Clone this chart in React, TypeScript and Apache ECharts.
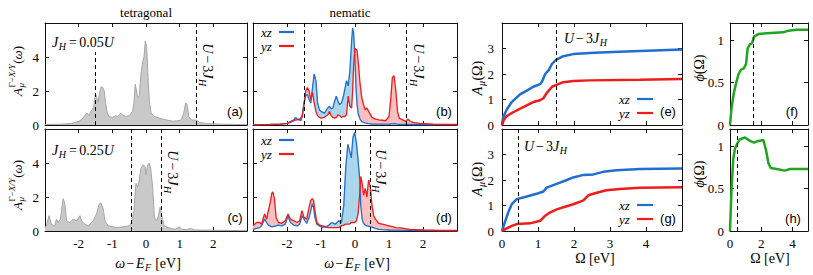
import React, { useEffect, useRef } from 'react';
import * as echarts from 'echarts';

// ---------------- data ----------------
// (a) tetragonal, J_H = 0.05U
const omegaTetA = [-3.0,-2.5,-2.2,-2.0,-1.9,-1.8,-1.75,-1.7,-1.65,-1.6,-1.55,-1.5,-1.46,-1.42,-1.38,-1.33,-1.28,-1.24,-1.2,-1.15,-1.1,-1.0,-0.9,-0.85,-0.75,-0.7,-0.6,-0.5,-0.4,-0.36,-0.32,-0.28,-0.24,-0.2,-0.15,-0.1,-0.06,-0.02,0.02,0.06,0.1,0.15,0.25,0.4,0.6,0.8,0.95,1.05,1.12,1.18,1.22,1.27,1.35,1.5,1.6,1.8,2.2,3.0];
const specTetA = [0.03,0.05,0.1,0.2,0.35,0.6,0.7,0.55,0.75,0.9,1.1,1.85,1.6,1.35,1.9,2.25,2.2,2.0,1.3,0.7,0.5,0.45,0.55,0.5,0.7,0.6,0.5,0.55,0.8,1.3,2.4,2.0,1.6,1.7,3.0,3.7,4.0,4.95,4.6,2.8,1.4,0.7,0.5,0.4,0.3,0.22,0.25,0.3,0.7,1.3,1.2,0.5,0.3,0.28,0.15,0.08,0.05,0.02];

// (b) nematic, J_H = 0.05U
const omegaNemB = [-3,-2.5,-2.2,-2.0,-1.9,-1.8,-1.75,-1.7,-1.65,-1.6,-1.55,-1.5,-1.45,-1.4,-1.35,-1.3,-1.25,-1.2,-1.15,-1.1,-1.05,-1.0,-0.9,-0.8,-0.75,-0.7,-0.65,-0.6,-0.55,-0.5,-0.45,-0.4,-0.35,-0.3,-0.25,-0.2,-0.15,-0.1,-0.07,-0.04,0.0,0.03,0.06,0.1,0.15,0.2,0.25,0.3,0.35,0.4,0.5,0.6,0.7,0.8,0.9,1.0,1.05,1.1,1.15,1.2,1.25,1.3,1.4,1.5,1.55,1.6,1.7,1.9,2.3,3.0];
const xzNemB = [0.02,0.03,0.05,0.1,0.2,0.3,0.45,0.35,0.3,0.4,0.6,1.3,1.7,1.8,1.5,1.3,2.2,3.0,2.6,1.3,0.9,0.8,0.7,1.0,1.1,0.95,1.0,1.4,1.7,1.4,1.2,1.3,1.6,2.1,2.6,2.3,3.2,4.9,5.7,5.4,3.8,2.2,1.2,0.6,0.35,0.2,0.15,0.12,0.1,0.08,0.06,0.05,0.05,0.05,0.05,0.05,0.06,0.07,0.08,0.07,0.05,0.04,0.04,0.04,0.04,0.03,0.03,0.03,0.02,0.02];
const yzNemB = [0.02,0.03,0.05,0.08,0.15,0.25,0.3,0.3,0.35,0.25,0.5,1.2,2.0,2.2,2.0,1.5,1.9,1.3,0.8,0.55,0.45,0.4,0.45,0.6,0.8,0.55,0.45,0.4,0.45,0.6,0.55,0.45,0.5,0.5,0.6,1.7,1.1,1.0,2.0,3.5,4.5,4.45,4.4,3.6,2.4,1.6,1.2,0.9,1.0,0.8,0.45,0.35,0.3,0.28,0.25,0.5,1.5,2.8,2.9,2.0,0.8,0.4,0.3,0.2,0.35,0.25,0.15,0.1,0.05,0.03];

// (c) tetragonal, J_H = 0.25U
const omegaTetC = [-3.0,-2.96,-2.88,-2.81,-2.71,-2.66,-2.61,-2.54,-2.49,-2.46,-2.41,-2.36,-2.26,-2.16,-2.06,-1.96,-1.91,-1.82,-1.72,-1.57,-1.47,-1.39,-1.34,-1.27,-1.22,-1.12,-0.87,-0.67,-0.5,-0.43,-0.36,-0.3,-0.25,-0.2,-0.15,-0.08,-0.03,0.0,0.04,0.09,0.14,0.2,0.25,0.32,0.37,0.42,0.47,0.54,0.66,0.86,0.99,1.06,1.2,1.32,1.45,1.9,2.5,3.0];
const specTetC = [0.2,0.3,0.9,0.4,0.3,0.7,0.5,0.7,1.5,1.9,1.6,0.6,0.5,0.7,0.6,0.9,0.6,0.4,0.3,0.6,1.0,1.6,1.65,1.3,0.6,0.3,0.2,0.25,0.3,0.5,1.2,2.8,2.6,3.0,3.7,3.9,3.8,3.3,3.8,4.0,3.7,2.5,0.8,0.6,0.9,1.4,0.9,0.3,0.2,0.1,0.25,0.1,0.08,0.15,0.06,0.05,0.03,0.02];

// (d) nematic, J_H = 0.25U
const omegaNemD = [-3.0,-2.9,-2.8,-2.75,-2.66,-2.6,-2.55,-2.5,-2.45,-2.42,-2.37,-2.32,-2.25,-2.15,-2.05,-1.97,-1.9,-1.8,-1.7,-1.63,-1.56,-1.5,-1.42,-1.35,-1.3,-1.26,-1.22,-1.18,-1.12,-1.05,-0.95,-0.8,-0.68,-0.58,-0.48,-0.4,-0.33,-0.27,-0.21,-0.17,-0.11,-0.06,-0.01,0.04,0.09,0.14,0.17,0.21,0.25,0.3,0.35,0.4,0.45,0.5,0.55,0.6,0.7,0.8,1.0,1.2,1.35,1.6,2.0,2.5,3.0];
const xzNemD = [0.1,0.15,0.2,0.3,0.7,0.5,0.35,0.3,0.25,0.25,0.28,0.3,0.35,0.3,0.4,0.9,0.5,0.35,0.3,0.4,0.9,0.7,0.45,0.8,1.2,1.6,1.4,0.8,0.4,0.3,0.2,0.3,0.5,0.4,0.6,0.5,1.5,3.8,5.1,4.8,4.3,5.5,5.8,5.2,4.2,3.0,1.5,0.7,0.45,0.35,0.3,0.28,0.25,0.22,0.2,0.15,0.1,0.08,0.06,0.05,0.05,0.04,0.03,0.02,0.02];
const yzNemD = [0.3,0.5,0.5,0.4,1.0,0.7,1.2,1.6,2.2,2.3,1.9,0.8,0.5,0.45,0.6,1.0,0.7,0.6,0.5,0.6,1.2,0.8,0.7,1.4,1.8,1.9,1.8,1.2,0.5,0.35,0.3,0.2,0.2,0.2,0.2,0.3,0.35,0.4,0.4,0.4,0.5,0.5,0.5,0.6,1.0,2.2,3.2,2.8,2.1,2.5,2.0,3.0,2.6,1.5,0.9,0.7,0.45,0.4,0.3,0.2,0.18,0.1,0.06,0.04,0.03];

// (e) spectral weight A_mu(Omega), J_H = 0.05U
const omegaSwXzE = [0,0.03,0.13,0.27,0.5,0.69,0.87,1.06,1.11,1.2,1.3,1.39,1.5,1.7,1.98,2.44,2.9,3.83,5.0];
const swXzE = [0,0.3,0.6,0.9,1.2,1.35,1.5,1.6,1.7,2.0,2.15,2.4,2.55,2.7,2.78,2.82,2.85,2.9,2.96];
const omegaSwYzE = [0,0.05,0.13,0.31,0.59,0.87,1.06,1.15,1.24,1.39,1.53,1.7,1.98,2.44,3.83,5.0];
const swYzE = [0,0.2,0.35,0.5,0.7,0.9,0.97,1.05,1.25,1.5,1.58,1.68,1.73,1.75,1.77,1.8];

// (g) spectral weight A_mu(Omega), J_H = 0.25U
const omegaSwXzG = [0,0.08,0.18,0.27,0.41,0.69,1.01,1.15,1.24,1.52,1.8,1.98,2.26,2.54,2.81,3.18,3.83,5.0];
const swXzG = [0,0.35,0.75,1.05,1.25,1.35,1.48,1.55,1.7,1.85,2.0,2.1,2.2,2.22,2.32,2.38,2.43,2.45];
const omegaSwYzG = [0,0.13,0.27,0.41,0.78,1.06,1.2,1.3,1.52,1.75,1.98,2.17,2.26,2.4,2.63,2.9,3.27,3.83,5.0];
const swYzG = [0,0.1,0.2,0.27,0.3,0.4,0.6,0.7,0.85,0.95,1.05,1.15,1.2,1.4,1.5,1.6,1.65,1.7,1.72];

// (f) and (h) phi(Omega)
const omegaPhiF = [0,0.1,0.25,0.4,0.55,0.7,0.9,1.03,1.13,1.28,1.41,1.54,1.82,2.35,3.42,3.74,4.27,5.0];
const phiF = [0,0.2,0.38,0.5,0.6,0.65,0.67,0.72,0.9,0.95,0.96,1.04,1.07,1.08,1.09,1.11,1.12,1.12];
const omegaPhiH = [0,0.1,0.21,0.32,0.47,0.64,0.96,1.28,1.54,1.82,2.14,2.31,2.46,2.61,2.99,3.52,3.85,5.0];
const phiH = [0,0.5,0.85,0.97,1.03,1.08,1.1,1.06,1.04,1.06,1.07,0.95,0.8,0.74,0.73,0.71,0.73,0.73];

// U - 3 J_H markers
const u3jSmall = 1.5;   // J_H = 0.05U
const u3jLarge = 0.44;  // J_H = 0.25U

// ---------------- styling ----------------
const SERIF = '"Liberation Serif", "DejaVu Serif", serif';
const SANS = '"Liberation Sans", "DejaVu Sans", sans-serif';
const BLUE = '#1e6fcf';
const RED = '#f01c1c';
const GREEN = '#1fa51f';
const LBLUE = '#a9d5ea';
const LRED = '#f9bfbf';

let ctx2d: CanvasRenderingContext2D | null = null;
function measure(t: string, font: string): number {
  if (!ctx2d) ctx2d = document.createElement('canvas').getContext('2d');
  if (!ctx2d) return t.length * 7;
  ctx2d.font = font;
  return ctx2d.measureText(t).width;
}
function fnt(size: number, it?: boolean) {
  return `${it ? 'italic ' : ''}${size}px ${SERIF}`;
}
type Run = { t: string; it?: boolean; gap?: number };
type Part = Run | { sup?: Run[]; sub?: Run[] };

function runs(rs: Run[], x0: number, dy: number, size: number, out: any[]) {
  let x = x0;
  for (const r of rs) {
    const g = r.gap || 0;
    x += g;
    const f = fnt(size, r.it);
    out.push({
      type: 'text', x, y: dy, silent: true,
      style: { text: r.t, font: f, fill: '#000', align: 'left', verticalAlign: 'middle', textAlign: 'left', textVerticalAlign: 'middle' },
    });
    x += measure(r.t, f) + g;
  }
  return x - x0;
}
function math(parts: Part[], size: number, x: number, y: number, align = 'left', rotation = 0) {
  const kids: any[] = [];
  let cx = 0;
  for (const p of parts) {
    if ('t' in p) cx += runs([p as Run], cx, 0, size, kids);
    else {
      const s = Math.round(size * 0.7);
      const q = p as { sup?: Run[]; sub?: Run[] };
      const w1 = q.sup ? runs(q.sup, cx + 0.5, -size * 0.36, s, kids) : 0;
      const w2 = q.sub ? runs(q.sub, cx + 0.5, size * 0.3, s, kids) : 0;
      cx += Math.max(w1, w2) + 1;
    }
  }
  const shift = align === 'center' ? -cx / 2 : align === 'right' ? -cx : 0;
  kids.forEach((k) => (k.x += shift));
  return { type: 'group', x, y, rotation, silent: true, children: kids };
}
function plain(text: string, x: number, y: number, size: number, family = SERIF, align = 'center') {
  return {
    type: 'text', x, y, silent: true,
    style: { text, font: `${size}px ${family}`, fill: '#000', align, verticalAlign: 'middle', textAlign: align, textVerticalAlign: 'middle' },
  };
}
function legendLine(x1: number, x2: number, y: number, color: string) {
  return { type: 'line', silent: true, shape: { x1, y1: y, x2, y2: y }, style: { stroke: color, lineWidth: 2.2 } };
}

// ---------------- layout ----------------
const grids = [
  { left: 45, top: 23, width: 202, height: 102 },  // a
  { left: 253, top: 23, width: 204, height: 102 }, // b
  { left: 45, top: 129, width: 202, height: 102 }, // c
  { left: 253, top: 129, width: 204, height: 102 },// d
  { left: 502, top: 23, width: 180, height: 102 }, // e
  { left: 502, top: 129, width: 180, height: 102 },// g
  { left: 730, top: 23, width: 78, height: 102 },  // f
  { left: 730, top: 129, width: 78, height: 102 }, // h
];
const specs = [
  { x: [-3, 3, 1], y: [0, 6, 2], xl: false, yl: true, hideXMin: true },
  { x: [-3, 3, 1], y: [0, 6, 2], xl: false, yl: false, hideXMin: true },
  { x: [-3, 3, 1], y: [0, 6, 2], xl: true, yl: true, hideXMin: true },
  { x: [-3, 3, 1], y: [0, 6, 2], xl: true, yl: false, hideXMin: true },
  { x: [0, 5, 1], y: [0, 4, 1], xl: false, yl: true, hideXMin: false },
  { x: [0, 5, 1], y: [0, 4, 1], xl: true, yl: true, hideXMin: false },
  { x: [0, 5, 2], y: [0, 1.2, 0.5], xl: false, yl: true, hideXMin: false },
  { x: [0, 5, 2], y: [0, 1.2, 0.5], xl: true, yl: true, hideXMin: false },
];

function axis(gridIndex: number, position: string, r: number[], labels: boolean, hideMin: boolean, margin: number) {
  return {
    type: 'value', gridIndex, position, min: r[0], max: r[1], interval: r[2],
    axisLine: { show: true, onZero: false, lineStyle: { color: '#111', width: 1 } },
    axisTick: { show: true, inside: true, length: 4, lineStyle: { color: '#111', width: 1 } },
    splitLine: { show: false },
    axisPointer: { show: false },
    axisLabel: {
      show: labels, color: '#000', fontFamily: SERIF, fontSize: 13, margin,
      showMinLabel: !hideMin, showMaxLabel: false, hideOverlap: false,
      formatter: (v: number) => String(Math.round(v * 100) / 100),
    },
  };
}

const zip = (xs: number[], ys: number[]) => xs.map((x, i) => [x, ys[i]]);
const dashStyle = { type: [4, 3], color: '#000', width: 1 };
function vlines(data: any[]) {
  return { silent: true, symbol: ['none', 'none'], label: { show: false }, lineStyle: dashStyle, emphasis: { disabled: true }, data };
}

function bandSeries(gi: number, xs: number[], a: number[], b: number[]) {
  return {
    type: 'custom', xAxisIndex: 2 * gi, yAxisIndex: 2 * gi, silent: true, z: 1,
    data: xs.map((x, i) => [x, a[i], b[i]]),
    encode: { x: 0, y: [1, 2] },
    renderItem: (params: any, api: any) => {
      const i = params.dataIndex;
      const children: any[] = [];
      if (i < xs.length - 1) {
        const x0 = xs[i], x1 = xs[i + 1];
        const d0 = a[i] - b[i], d1 = a[i + 1] - b[i + 1];
        const poly = (pts: number[][], fill: string) =>
          children.push({ type: 'polygon', shape: { points: pts.map((p) => api.coord(p)) }, style: { fill, stroke: fill, lineWidth: 0.6 } });
        if (d0 * d1 < 0) {
          const t = d0 / (d0 - d1);
          const xc = x0 + t * (x1 - x0);
          const yc = a[i] + t * (a[i + 1] - a[i]);
          poly([[x0, a[i]], [xc, yc], [x0, b[i]]], d0 > 0 ? LBLUE : LRED);
          poly([[xc, yc], [x1, a[i + 1]], [x1, b[i + 1]]], d1 > 0 ? LBLUE : LRED);
        } else {
          poly([[x0, a[i]], [x1, a[i + 1]], [x1, b[i + 1]], [x0, b[i]]], d0 + d1 >= 0 ? LBLUE : LRED);
        }
      }
      return { type: 'group', children };
    },
  };
}
function line(gi: number, xs: number[], ys: number[], color: string, width: number, extra: any = {}) {
  return {
    type: 'line', xAxisIndex: 2 * gi, yAxisIndex: 2 * gi, data: zip(xs, ys), symbol: 'none', showSymbol: false,
    silent: true, lineStyle: { color, width }, itemStyle: { color }, z: 3, ...extra,
  };
}

function buildOption() {
  const xAxis: any[] = [];
  const yAxis: any[] = [];
  specs.forEach((s, i) => {
    xAxis.push(axis(i, 'bottom', s.x, s.xl, s.hideXMin, 6));
    xAxis.push(axis(i, 'top', s.x, false, s.hideXMin, 6));
    yAxis.push(axis(i, 'left', s.y, s.yl, false, i >= 4 && i < 6 ? 8 : 6));
    yAxis.push(axis(i, 'right', s.y, false, false, 6));
  });

  const series: any[] = [
    // (a)
    line(0, omegaTetA, specTetA, '#a6a6a6', 1, {
      areaStyle: { color: '#c9c9c9', opacity: 1 }, z: 2,
      markLine: vlines([[{ coord: [-u3jSmall, 0] }, { coord: [-u3jSmall, 4.3] }], { xAxis: u3jSmall }]),
    }),
    // (b)
    bandSeries(1, omegaNemB, xzNemB, yzNemB),
    line(1, omegaNemB, xzNemB, BLUE, 1.3, { markLine: vlines([{ xAxis: -u3jSmall }, { xAxis: u3jSmall }]) }),
    line(1, omegaNemB, yzNemB, RED, 1.3),
    // (c)
    line(2, omegaTetC, specTetC, '#a6a6a6', 1, {
      areaStyle: { color: '#c9c9c9', opacity: 1 }, z: 2,
      markLine: vlines([{ xAxis: -u3jLarge }, { xAxis: u3jLarge }]),
    }),
    // (d)
    bandSeries(3, omegaNemD, xzNemD, yzNemD),
    line(3, omegaNemD, xzNemD, BLUE, 1.3, { markLine: vlines([{ xAxis: -u3jLarge }, { xAxis: u3jLarge }]) }),
    line(3, omegaNemD, yzNemD, RED, 1.3),
    // (e)
    line(4, omegaSwXzE, swXzE, BLUE, 2.5, { markLine: vlines([{ xAxis: u3jSmall }]) }),
    line(4, omegaSwYzE, swYzE, RED, 2.5),
    // (g)
    line(5, omegaSwXzG, swXzG, BLUE, 2.5, { markLine: vlines([{ xAxis: u3jLarge }]) }),
    line(5, omegaSwYzG, swYzG, RED, 2.5),
    // (f)
    line(6, omegaPhiF, phiF, GREEN, 2.5, { markLine: vlines([{ xAxis: u3jSmall }]) }),
    // (h)
    line(7, omegaPhiH, phiH, GREEN, 2.5, { markLine: vlines([{ xAxis: u3jLarge }]) }),
  ];

  const yLabDos: Part[] = [
    { t: 'A', it: true },
    { sup: [{ t: 'Γ' }, { t: '−' }, { t: 'X/Y', it: true }], sub: [{ t: 'μ', it: true }] },
    { t: '(' }, { t: 'ω', it: true }, { t: ')' },
  ];
  const yLabA: Part[] = [{ t: 'A', it: true }, { sub: [{ t: 'μ', it: true }] }, { t: '(Ω)' }];
  const yLabPhi: Part[] = [{ t: 'ϕ', it: true }, { t: '(Ω)' }];
  const xLabW: Part[] = [{ t: 'ω', it: true }, { t: '−', gap: 1.5 }, { t: 'E', it: true }, { sub: [{ t: 'F', it: true }] }, { t: ' [eV]' }];
  const u3j: Part[] = [{ t: 'U', it: true }, { t: '−', gap: 2 }, { t: '3' }, { t: 'J', it: true }, { sub: [{ t: 'H', it: true }] }];
  const jh = (v: string): Part[] => [{ t: 'J', it: true }, { sub: [{ t: 'H', it: true }] }, { t: '=', gap: 2.5 }, { t: v }, { t: 'U', it: true }];
  const xz: Part[] = [{ t: 'xz', it: true }];
  const yz: Part[] = [{ t: 'yz', it: true }];

  const R = Math.PI / 2;
  const LS = 13;
  const elements: any[] = [
    plain('tetragonal', 146, 12, 13),
    plain('nematic', 350, 12, 13),
    math(yLabDos, 13, 17, 71, 'center', R),
    math(yLabDos, 13, 17, 185, 'center', R),
    math(yLabA, 14, 477, 78, 'center', R),
    math(yLabA, 14, 477, 179, 'center', R),
    math(yLabPhi, 14, 699, 68, 'center', R),
    math(yLabPhi, 14, 699, 174, 'center', R),
    math(xLabW, 14, 148, 263, 'center'),
    math(xLabW, 14, 357, 263, 'center'),
    plain('Ω [eV]', 595, 258, 14),
    plain('Ω [eV]', 770, 258, 14),
    math(jh('0.05'), 14, 52, 42, 'left'),
    math(jh('0.25'), 14, 52, 150, 'left'),
    math(u3j, 14, 207, 65, 'center', -R),
    math(u3j, 14, 418, 65, 'center', -R),
    math(u3j, 14, 172, 172, 'center', -R),
    math(u3j, 14, 380, 171, 'center', -R),
    math(u3j, 14, 564, 38, 'left'),
    math(u3j, 14, 524, 146, 'left'),
    // legends
    math(xz, LS, 261, 32, 'left'), legendLine(279, 294, 32, BLUE),
    math(yz, LS, 261, 46, 'left'), legendLine(279, 294, 46, RED),
    math(xz, LS, 261, 140, 'left'), legendLine(279, 294, 140, BLUE),
    math(yz, LS, 261, 154, 'left'), legendLine(279, 294, 154, RED),
    math(xz, LS, 619, 99, 'left'), legendLine(637, 653, 99, BLUE),
    math(yz, LS, 619, 113, 'left'), legendLine(637, 653, 113, RED),
    math(xz, LS, 619, 205, 'left'), legendLine(637, 653, 205, BLUE),
    math(yz, LS, 619, 219, 'left'), legendLine(637, 653, 219, RED),
    // panel tags
    plain('(a)', 235, 111, 13, SANS),
    plain('(b)', 444, 111, 13, SANS),
    plain('(c)', 235, 217, 13, SANS),
    plain('(d)', 444, 217, 13, SANS),
    plain('(e)', 668, 111, 13, SANS),
    plain('(g)', 668, 218, 13, SANS),
    plain('(f)', 792, 111, 13, SANS),
    plain('(h)', 793, 218, 13, SANS),
  ];

  return {
    animation: false,
    backgroundColor: '#fff',
    grid: grids.map((g) => ({ ...g, containLabel: false, outerBoundsMode: 'none', show: false })),
    xAxis,
    yAxis,
    series,
    graphic: { elements },
  };
}

export default function App() {
  const ref = useRef<HTMLDivElement>(null);
  useEffect(() => {
    if (!ref.current) return;
    const chart = echarts.init(ref.current, null, { renderer: 'svg' });
    chart.setOption(buildOption() as any);
    return () => chart.dispose();
  }, []);
  return <div ref={ref} style={{ position: 'fixed', left: 0, top: 0, width: 813, height: 275, background: '#fff' }} />;
}
